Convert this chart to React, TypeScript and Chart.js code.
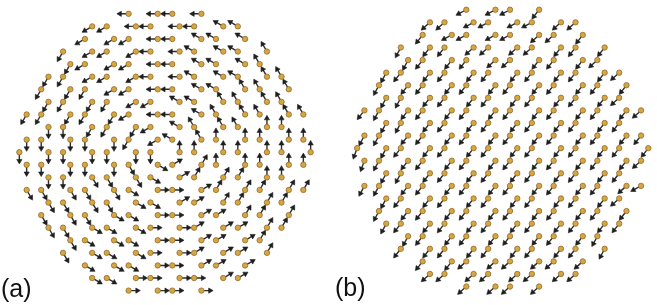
import React, { useEffect, useRef } from "react";
import { Chart, registerables } from "chart.js";

Chart.register(...registerables);

// Honeycomb lattice sites (lattice units, nearest-neighbour distance = 1), one array per row, top row first
const ROW_SITES: number[][] = [
  [-2.5, -0.5, 0.5, 2.5],
  [-5, -4, -2, -1, 1, 2, 4, 5],
  [-5.5, -3.5, -2.5, -0.5, 0.5, 2.5, 3.5, 5.5],
  [-7, -5, -4, -2, -1, 1, 2, 4, 5, 7],
  [-6.5, -5.5, -3.5, -2.5, -0.5, 0.5, 2.5, 3.5, 5.5, 6.5],
  [-8, -7, -5, -4, -2, -1, 1, 2, 4, 5, 7, 8],
  [-8.5, -6.5, -5.5, -3.5, -2.5, -0.5, 0.5, 2.5, 3.5, 5.5, 6.5, 8.5],
  [-8, -7, -5, -4, -2, -1, 1, 2, 4, 5, 7, 8],
  [-9.5, -8.5, -6.5, -5.5, -3.5, -2.5, -0.5, 0.5, 2.5, 3.5, 5.5, 6.5, 8.5, 9.5],
  [-8, -7, -5, -4, -2, -1, 1, 2, 4, 5, 7, 8],
  [-9.5, -8.5, -6.5, -5.5, -3.5, -2.5, -0.5, 0.5, 2.5, 3.5, 5.5, 6.5, 8.5, 9.5],
  [-10, -8, -7, -5, -4, -2, -1, 1, 2, 4, 5, 7, 8, 10],
  [-9.5, -8.5, -6.5, -5.5, -3.5, -2.5, -0.5, 0.5, 2.5, 3.5, 5.5, 6.5, 8.5, 9.5],
  [-8, -7, -5, -4, -2, -1, 1, 2, 4, 5, 7, 8],
  [-9.5, -8.5, -6.5, -5.5, -3.5, -2.5, -0.5, 0.5, 2.5, 3.5, 5.5, 6.5, 8.5, 9.5],
  [-8, -7, -5, -4, -2, -1, 1, 2, 4, 5, 7, 8],
  [-8.5, -6.5, -5.5, -3.5, -2.5, -0.5, 0.5, 2.5, 3.5, 5.5, 6.5, 8.5],
  [-8, -7, -5, -4, -2, -1, 1, 2, 4, 5, 7, 8],
  [-6.5, -5.5, -3.5, -2.5, -0.5, 0.5, 2.5, 3.5, 5.5, 6.5],
  [-7, -5, -4, -2, -1, 1, 2, 4, 5, 7],
  [-5.5, -3.5, -2.5, -0.5, 0.5, 2.5, 3.5, 5.5],
  [-5, -4, -2, -1, 1, 2, 4, 5],
  [-2.5, -0.5, 0.5, 2.5],
];

// Panel (a): spin direction per site, hex digit k => k*30 degrees (counter-clockwise from +x)
const SPINS_A: string[] = [
  "6666",
  "77666655",
  "77766555",
  "8777665554",
  "8777665554",
  "887776655544",
  "888776655444",
  "888877554444",
  "88888766544444",
  "998887544433",
  "99999875433333",
  "99999993333333",
  "99999ab1233333",
  "99aaab122233",
  "aaaaab00122222",
  "aaaabb112222",
  "aaabb0011222",
  "aabbb0011122",
  "abbb001112",
  "abbb001112",
  "bbb00111",
  "bb000011",
  "0000",
];

// Panel (b): spin direction per site, letter => angle in degrees (counter-clockwise from +x)
const SPINS_B: string[] = [
  "AAAC",
  "BBAAAABB",
  "CAAAABBC",
  "DCCBBBBCCC",
  "DCCCBBCCCB",
  "DCCCCCCCCCCB",
  "DCCCCCCCCCCC",
  "DDCCCCCCCCCB",
  "CDCCCCCCCCCCCB",
  "DDCCCCCCCCCC",
  "DDCCCCCCCCCCCC",
  "EDCCCCCCCCCCCC",
  "EDCCCCCCCCCCCB",
  "DDCCCCCCCCCC",
  "DDCCCCCCCCCCBA",
  "DCCCCCCCCCCB",
  "DCCCCCCCCCCC",
  "DCCCCCCCCCCC",
  "DCCCCCCCCD",
  "CCCCCCCCCD",
  "CCBBBBBB",
  "BBBBBBBB",
  "BBBB",
];
const B_LETTER_ANGLE: Record<string, number> = { A: 208, B: 222, C: 232, D: 242, E: 250 };

const PANEL_LABELS = ["(a)", "(b)"];

const ROW_H = Math.sqrt(3) / 2;
const PX = 15; // pixels per lattice unit

function anglesA(): number[][] {
  return SPINS_A.map((s) => s.split("").map((c) => parseInt(c, 16) * 30));
}
function anglesB(): number[][] {
  return SPINS_B.map((s) => s.split("").map((c) => B_LETTER_ANGLE[c]));
}

const ARROW_LEN = 0.8;
const HEAD_R = 3.0; // px

function buildDatasets(angles: number[][]) {
  const dots: any[] = [];
  const shafts: any[] = [];
  const heads: any[] = [];
  const rots: number[] = [];
  const headC = ARROW_LEN - HEAD_R / PX;
  const shaftEnd = ARROW_LEN - (1.3 * HEAD_R) / PX;
  ROW_SITES.forEach((xs, r) => {
    const y = (r - 11) * ROW_H;
    xs.forEach((x, i) => {
      const deg = angles[r][i];
      const th = (deg * Math.PI) / 180;
      const dx = Math.cos(th);
      const dy = -Math.sin(th);
      dots.push({ x, y });
      shafts.push({ x, y }, { x: x + dx * shaftEnd, y: y + dy * shaftEnd }, { x, y: null });
      heads.push({ x: x + dx * headC, y: y + dy * headC });
      rots.push(90 - deg);
    });
  });
  return [
    {
      data: shafts,
      showLine: true,
      spanGaps: false,
      borderColor: "#2e2e2e",
      borderWidth: 1.4,
      pointRadius: 0,
      order: 3,
      clip: false,
    },
    {
      data: heads,
      pointStyle: "triangle",
      pointRadius: HEAD_R,
      pointRotation: rots,
      backgroundColor: "#1e1e1e",
      borderColor: "#1e1e1e",
      borderWidth: 0.6,
      order: 2,
      clip: false,
    },
    {
      data: dots,
      pointStyle: "circle",
      pointRadius: 2.7,
      backgroundColor: "#d8a543",
      borderColor: "#8f6c2a",
      borderWidth: 0.8,
      order: 1,
      clip: false,
    },
  ];
}

function Panel(props: { width: number; height: number; cx: number; cy: number; angles: number[][] }) {
  const ref = useRef<HTMLCanvasElement | null>(null);
  const { width, height, cx, cy, angles } = props;
  useEffect(() => {
    if (!ref.current) return;
    const chart = new Chart(ref.current, {
      type: "scatter",
      data: { datasets: buildDatasets(angles) as any },
      options: {
        animation: false,
        responsive: false,
        maintainAspectRatio: false,
        devicePixelRatio: 1,
        events: [],
        layout: { padding: 0 },
        plugins: { legend: { display: false }, tooltip: { enabled: false }, title: { display: false } },
        scales: {
          x: { type: "linear", display: false, min: -cx / PX, max: (width - cx) / PX },
          y: { type: "linear", display: false, reverse: true, min: -cy / PX, max: (height - cy) / PX },
        },
      },
    });
    return () => chart.destroy();
  }, [width, height, cx, cy, angles]);
  return <canvas ref={ref} width={width} height={height} style={{ display: "block", width, height }} />;
}

const A_ANGLES = anglesA();
const B_ANGLES = anglesB();

export default function App() {
  const labelStyle: React.CSSProperties = {
    position: "absolute",
    fontFamily: "'Liberation Sans', Arial, sans-serif",
    fontSize: 25,
    lineHeight: "25px",
    color: "#111",
  };
  return (
    <div style={{ position: "relative", width: 657, height: 305, background: "#fff", overflow: "hidden" }}>
      <style>{`body{margin:0;background:#fff}`}</style>
      <div style={{ position: "absolute", left: 0, top: 0 }}>
        <Panel width={330} height={305} cx={165} cy={152.2} angles={A_ANGLES} />
      </div>
      <div style={{ position: "absolute", left: 330, top: 0 }}>
        <Panel width={327} height={305} cx={173} cy={148} angles={B_ANGLES} />
      </div>
      <div style={{ ...labelStyle, left: 1, top: 276 }}>{PANEL_LABELS[0]}</div>
      <div style={{ ...labelStyle, left: 335, top: 275 }}>{PANEL_LABELS[1]}</div>
    </div>
  );
}
